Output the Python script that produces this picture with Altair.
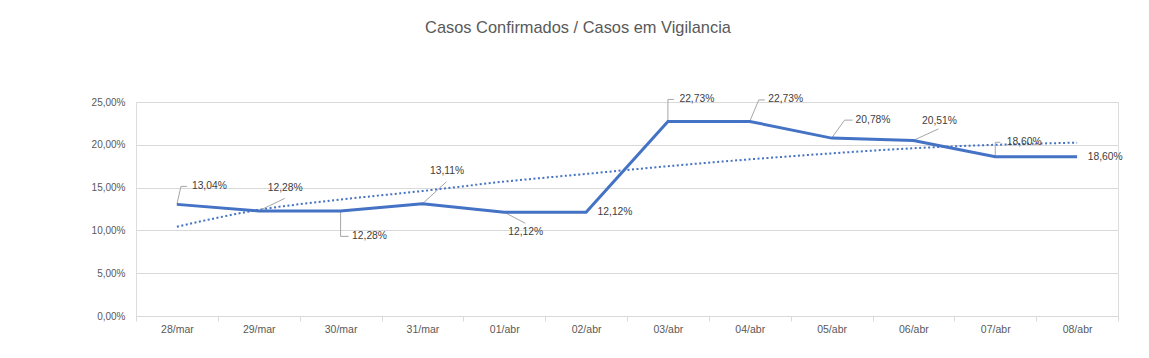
import altair as alt
import pandas as pd

# ---- data ----
dates = ["28/mar", "29/mar", "30/mar", "31/mar", "01/abr", "02/abr",
         "03/abr", "04/abr", "05/abr", "06/abr", "07/abr", "08/abr"]
ratio = [13.04, 12.28, 12.28, 13.11, 12.12, 12.12,
         22.73, 22.73, 20.78, 20.51, 18.60, 18.60]
trend = [10.43, 12.40, 13.60, 14.60, 15.70, 16.60,
         17.50, 18.30, 19.00, 19.60, 20.00, 20.25]
y_ticks = [0, 5, 10, 15, 20, 25]

# ---- label layout (pixel offsets of data labels / leader lines) ----
label_dx = [15, 9, 11.5, 7.6, 4, 11.5, 11.5, 18.5, 24, 8.6, 11.5, 10.6]
label_dy = [-18, -22.6, 25.5, -32.8, 19.5, 0, -22, -22, -18.3, -19, -14.5, 0]
leaders = [
    [(0, 0), (4, -18), (10, -18)],
    [(0, 0), (26, -12.5)],
    [(0, 0), (0, 25.5), (8, 25.5)],
    [(0, 0), (24, -22)],
    [(0, 0), (21, 11)],
    [],
    [(0, 0), (0, -22), (6, -22)],
    [(0, 0), (9, -21.5), (15, -21.5)],
    [(0, 0), (13, -18), (21, -18)],
    [(0, 0), (25, -11.5)],
    [(0, 0), (0, -14.5), (5, -14.5)],
    [],
]

df = pd.DataFrame({"date": dates, "v": ratio, "t": trend})

FONT = "Liberation Sans"
LINE = "#4472C4"
W, H = 982, 214

x_enc = alt.X(
    "date:N", sort=dates, title=None,
    scale=alt.Scale(type="band", paddingInner=0, paddingOuter=0),
    axis=alt.Axis(tickBand="extent", labelAngle=0, domainColor="#d9d9d9",
                  tickColor="#d9d9d9", tickSize=5, labelPadding=3,
                  labelColor="#595959", labelFont=FONT, labelFontSize=10.5,
                  grid=False),
)
y_scale = alt.Scale(domain=[0, 25], nice=False, zero=True)
y_enc = alt.Y(
    "v:Q", scale=y_scale, title=None,
    axis=alt.Axis(values=y_ticks, ticks=False, tickSize=0, domain=False,
                  gridColor="#d9d9d9", labelPadding=11,
                  labelColor="#595959", labelFont=FONT, labelFontSize=10,
                  labelExpr="replace(format(datum.value, '.2f'), '.', ',') + '%'"),
)

base = alt.Chart(df)

trend_line = base.mark_line(color=LINE, strokeWidth=2, strokeDash=[2, 2.5],
                            interpolate="monotone").encode(
    x=x_enc, y=alt.Y("t:Q", scale=y_scale))

main_line = base.mark_line(color=LINE, strokeWidth=3).encode(x=x_enc, y=y_enc)

layers = [trend_line]

# leader lines
for i, path in enumerate(leaders):
    for (a0, b0), (a1, b1) in zip(path[:-1], path[1:]):
        seg = base.transform_filter(alt.datum.date == dates[i]).mark_rule(
            color="#a6a6a6", strokeWidth=1,
            xOffset=a0, yOffset=b0, x2Offset=a1, y2Offset=b1,
        ).encode(
            x=alt.X("date:N", sort=dates),
            x2="date:N",
            y=alt.Y("v:Q"),
            y2="v:Q",
        )
        layers.append(seg)

layers.append(main_line)

# data labels
for i in range(len(dates)):
    lab = base.transform_filter(alt.datum.date == dates[i]).transform_calculate(
        lbl="replace(format(datum.v, '.2f'), '.', ',') + '%'"
    ).mark_text(
        align="left", baseline="middle", dx=label_dx[i], dy=label_dy[i],
        font=FONT, fontSize=10.3, color="#404040",
    ).encode(x=alt.X("date:N", sort=dates), y=alt.Y("v:Q"), text="lbl:N")
    layers.append(lab)

chart = alt.layer(*layers).properties(
    width=W, height=H,
    title=alt.Title("Casos Confirmados / Casos em Vigilancia", font=FONT,
                    fontSize=16.4, fontWeight="normal", color="#595959",
                    anchor="middle", dx=-49, offset=45, baseline="alphabetic"),
    autosize=alt.AutoSizeParams(type="none"),
    padding={"left": 136, "top": 102, "right": 31, "bottom": 42},
).configure_view(stroke=None).configure(background="white")

chart.save("out.html", embed_options={"renderer": "svg", "actions": False})
